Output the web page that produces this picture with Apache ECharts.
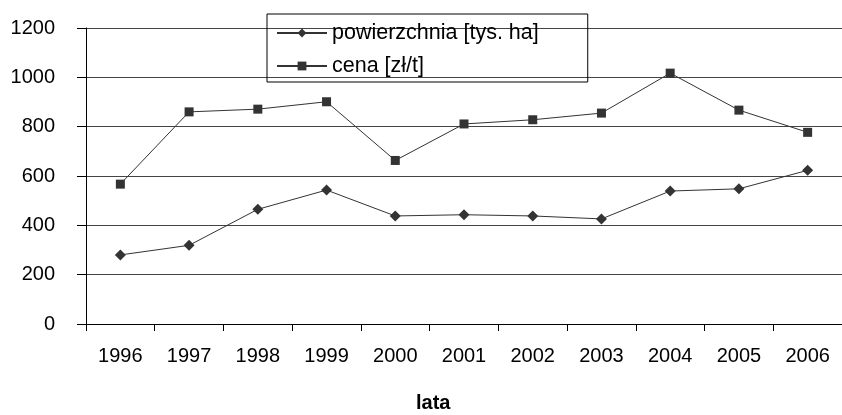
<!DOCTYPE html>
<html>
<head>
<meta charset="utf-8">
<script src="https://cdn.jsdelivr.net/npm/echarts@6/dist/echarts.min.js"></script>
<style>
  html, body { margin: 0; padding: 0; background: #fff; }
  #main { width: 842px; height: 415px; }
</style>
</head>
<body>
<div id="main"></div>
<script>
var years = ["1996", "1997", "1998", "1999", "2000", "2001", "2002", "2003", "2004", "2005", "2006"];
var powierzchnia = [280, 319, 465, 543, 438, 443, 438, 426, 539, 548, 623];
var cena = [567, 860, 871, 901, 663, 811, 828, 855, 1017, 867, 777];
var yTicks = [0, 200, 400, 600, 800, 1000, 1200];

var font = "Liberation Sans, Arial, sans-serif";
var chart = echarts.init(document.getElementById("main"), null, { renderer: "canvas" });

chart.setOption({
    animation: false,
    backgroundColor: "#fff",
    title: {
        text: "lata",
        left: 416,
        top: 393,
        padding: 0,
        textStyle: { fontFamily: font, fontSize: 20, fontWeight: "bold", color: "#000" }
    },
    legend: {
        orient: "vertical",
        left: 267,
        top: 14,
        padding: [8, 49, 5, 9],
        itemGap: 11,
        itemWidth: 50,
        itemHeight: 11,
        borderColor: "#000",
        borderWidth: 1,
        textStyle: { fontFamily: font, fontSize: 21.5, color: "#000", lineHeight: 20 },
        data: ["powierzchnia [tys. ha]", "cena [zł/t]"]
    },
    grid: { left: 86, top: 28, right: -4, bottom: 91 },
    xAxis: {
        type: "category",
        data: years,
        boundaryGap: true,
        axisLine: { lineStyle: { color: "#000", width: 1 } },
        axisTick: { show: true, length: 7, lineStyle: { color: "#000" } },
        axisLabel: { margin: 22, fontFamily: font, fontSize: 20, color: "#000" }
    },
    yAxis: {
        type: "value",
        min: yTicks[0],
        max: yTicks[yTicks.length - 1],
        interval: 200,
        axisLine: { show: true, lineStyle: { color: "#000", width: 1 } },
        axisTick: { show: true, length: 9, lineStyle: { color: "#000" } },
        axisLabel: {
            margin: 31, fontFamily: font, fontSize: 20, color: "#000",
            formatter: function (v) { return String(v); }
        },
        splitLine: { show: true, lineStyle: { color: "#444", width: 1 } }
    },
    series: [{
        name: "powierzchnia [tys. ha]",
        type: "line",
        data: powierzchnia,
        symbol: "diamond",
        symbolSize: 11,
        itemStyle: { color: "#333" },
        lineStyle: { color: "#333", width: 1 }
    }, {
        name: "cena [zł/t]",
        type: "line",
        data: cena,
        symbol: "rect",
        symbolSize: 9,
        itemStyle: { color: "#333" },
        lineStyle: { color: "#333", width: 1 }
    }]
});
</script>
</body>
</html>
